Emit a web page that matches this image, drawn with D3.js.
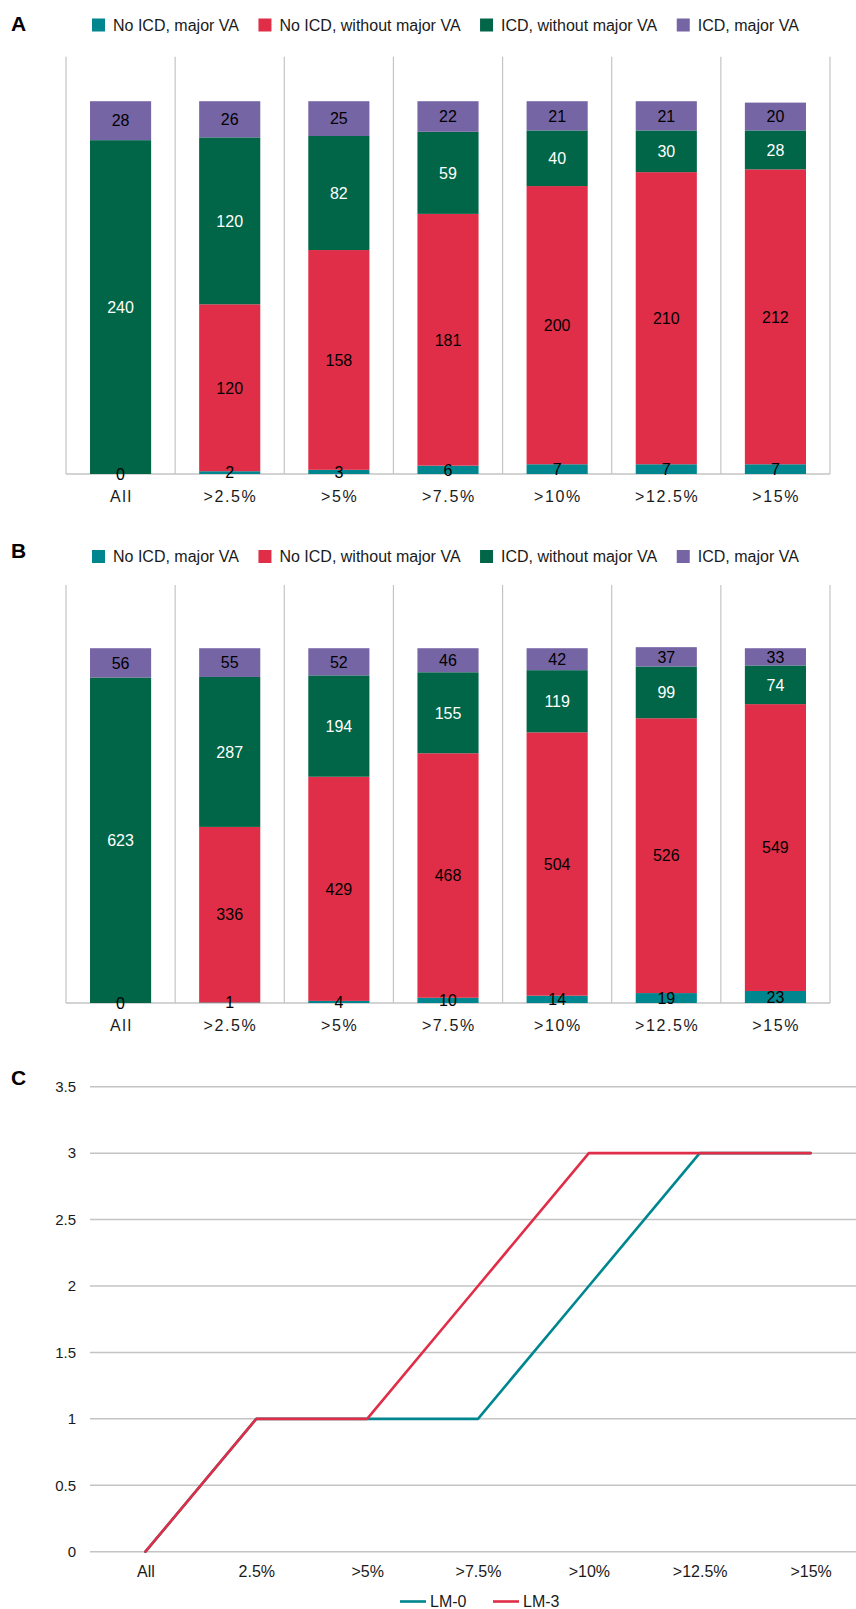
<!DOCTYPE html>
<html>
<head>
<meta charset="utf-8">
<script src="https://cdn.jsdelivr.net/npm/d3@7"></script>
<style>
  html, body { margin: 0; padding: 0; background: #fff; }
  svg { display: block; font-family: Arial, "Liberation Sans", sans-serif; }
</style>
</head>
<body>
<svg id="chart" width="856" height="1609"></svg>
<script>
// Risk thresholds (categories shared by all panels)
const categories = ["All", ">2.5%", ">5%", ">7.5%", ">10%", ">12.5%", ">15%"];
const lineCategories = ["All", "2.5%", ">5%", ">7.5%", ">10%", ">12.5%", ">15%"];

// Stack series names
const seriesNames = ["No ICD, major VA", "No ICD, without major VA", "ICD, without major VA", "ICD, major VA"];
const seriesColors = ["#00868F", "#E02E48", "#006647", "#7665A4"];

// Panel A counts
const aNoIcdMajor   = [0, 2, 3, 6, 7, 7, 7];
const aNoIcdWithout = [null, 120, 158, 181, 200, 210, 212];
const aIcdWithout   = [240, 120, 82, 59, 40, 30, 28];
const aIcdMajor     = [28, 26, 25, 22, 21, 21, 20];

// Panel B counts
const bNoIcdMajor   = [0, 1, 4, 10, 14, 19, 23];
const bNoIcdWithout = [null, 336, 429, 468, 504, 526, 549];
const bIcdWithout   = [623, 287, 194, 155, 119, 99, 74];
const bIcdMajor     = [56, 55, 52, 46, 42, 37, 33];

// Panel C lines
const lm0 = [0, 1, 1, 1, 2, 3, 3];
const lm3 = [0, 1, 1, 2, 3, 3, 3];
const lineNames = ["LM-0", "LM-3"];
const lineColors = ["#00868F", "#E02E48"];
const cTicks = [0, 0.5, 1, 1.5, 2, 2.5, 3, 3.5];

const svg = d3.select("#chart");
const gridColor = "#C4C4C4";
const textColor = "#1a1a1a";
const fontStack = "Arial, 'Liberation Sans', sans-serif";

function drawLegend(g, y, startX) {
  let x = startX;
  seriesNames.forEach((name, i) => {
    g.append("rect").attr("x", x).attr("y", y - 6.5).attr("width", 13).attr("height", 13)
      .attr("fill", seriesColors[i]);
    const t = g.append("text").attr("x", x + 21).attr("y", y).attr("dy", "0.35em")
      .attr("font-size", 16).attr("fill", textColor).text(name);
    x += 21 + t.node().getComputedTextLength() + 19.5;
  });
}

function drawStackPanel(opts) {
  const { letter, letterY, legendY, top, bottom, maxY, cols } = opts;
  const g = svg.append("g");
  const left = 66, right = 830;

  g.append("text").attr("x", 11).attr("y", letterY).attr("dy", "0.35em")
    .attr("font-size", 21).attr("font-weight", "bold").attr("fill", "#000").text(letter);
  drawLegend(g, legendY, 92);

  const x = d3.scaleBand().domain(categories).range([left, right])
    .paddingInner(0.44).paddingOuter(0.22);
  const y = d3.scaleLinear().domain([0, maxY]).range([bottom, top]);
  const step = x.step();

  // Category dividers
  const dividers = categories.map(c => x(c) - step * 0.22).concat([right]);
  g.selectAll(".div").data(dividers).join("line")
    .attr("x1", d => d).attr("x2", d => d).attr("y1", top).attr("y2", bottom)
    .attr("stroke", gridColor).attr("stroke-width", 1.2);
  g.append("line").attr("x1", left).attr("x2", right).attr("y1", bottom).attr("y2", bottom)
    .attr("stroke", gridColor).attr("stroke-width", 1.5);

  const rows = categories.map((c, i) => {
    const r = { cat: c };
    seriesNames.forEach((s, k) => { r[s] = cols[k][i] == null ? 0 : cols[k][i]; });
    return r;
  });
  const stack = d3.stack().keys(seriesNames)(rows);

  stack.forEach((layer, k) => {
    const lg = g.append("g");
    lg.selectAll("rect").data(layer).join("rect")
      .attr("x", d => x(d.data.cat)).attr("width", x.bandwidth())
      .attr("y", d => y(d[1])).attr("height", d => y(d[0]) - y(d[1]))
      .attr("fill", seriesColors[k]);
  });
  stack.forEach((layer, k) => {
    const lg = g.append("g");
    lg.selectAll("text").data(layer.filter((d, i) => cols[k][i] != null)).join("text")
      .attr("x", d => x(d.data.cat) + x.bandwidth() / 2)
      .attr("y", d => (y(d[0]) + y(d[1])) / 2).attr("dy", "0.36em")
      .attr("text-anchor", "middle").attr("font-size", 16)
      .attr("fill", k === 2 ? "#fff" : "#000")
      .text(d => d[1] - d[0]);
  });

  // Category labels
  const axis = d3.axisBottom(x).tickSize(0).tickPadding(0);
  const ax = g.append("g").attr("transform", `translate(0,${bottom})`).call(axis);
  ax.select(".domain").remove();
  ax.selectAll("text").attr("y", 22).attr("dy", "0.35em").attr("font-size", 16)
    .attr("letter-spacing", 1.6).attr("dx", 0.8).attr("fill", textColor)
    .attr("font-family", fontStack);
}

drawStackPanel({
  letter: "A", letterY: 24, legendY: 25, top: 56.7, bottom: 474, maxY: 300,
  cols: [aNoIcdMajor, aNoIcdWithout, aIcdWithout, aIcdMajor]
});
drawStackPanel({
  letter: "B", letterY: 551, legendY: 556.5, top: 585, bottom: 1003, maxY: 800,
  cols: [bNoIcdMajor, bNoIcdWithout, bIcdWithout, bIcdMajor]
});

// Panel C: line chart
(function () {
  const g = svg.append("g");
  const left = 90, right = 866, top = 1086.7, bottom = 1551.7;
  g.append("text").attr("x", 11).attr("y", 1078).attr("dy", "0.35em")
    .attr("font-size", 21).attr("font-weight", "bold").attr("fill", "#000").text("C");

  const x = d3.scalePoint().domain(lineCategories).range([left, right]).padding(0.5);
  const y = d3.scaleLinear().domain([0, 3.5]).range([bottom, top]);

  g.selectAll(".grid").data(cTicks).join("line")
    .attr("x1", left).attr("x2", right).attr("y1", d => y(d)).attr("y2", d => y(d))
    .attr("stroke", gridColor).attr("stroke-width", 1.5);

  const yAxis = d3.axisLeft(y).tickValues(cTicks).tickFormat(d => String(d)).tickSize(0).tickPadding(0);
  const ya = g.append("g").attr("transform", `translate(76,0)`).call(yAxis);
  ya.select(".domain").remove();
  ya.selectAll("text").attr("font-size", 15).attr("fill", textColor)
    .attr("font-family", fontStack);

  const xAxis = d3.axisBottom(x).tickSize(0).tickPadding(0);
  const xa = g.append("g").attr("transform", `translate(0,${bottom})`).call(xAxis);
  xa.select(".domain").remove();
  xa.selectAll("text").attr("y", 20).attr("dy", "0.35em").attr("font-size", 16).attr("fill", textColor)
    .attr("font-family", fontStack);

  const line = d3.line().x((d, i) => x(lineCategories[i])).y(d => y(d));
  [lm0, lm3].forEach((vals, k) => {
    g.append("path").attr("d", line(vals)).attr("fill", "none")
      .attr("stroke", lineColors[k]).attr("stroke-width", 2.6)
      .attr("stroke-linejoin", "round").attr("stroke-linecap", "round");
  });

  // Legend
  const lgY = 1601.5;
  const items = [{ x: 400 }, { x: 493 }];
  lineNames.forEach((name, k) => {
    const lx = items[k].x;
    g.append("line").attr("x1", lx).attr("x2", lx + 26).attr("y1", lgY).attr("y2", lgY)
      .attr("stroke", lineColors[k]).attr("stroke-width", 2.6);
    g.append("text").attr("x", lx + 30).attr("y", lgY).attr("dy", "0.35em")
      .attr("font-size", 16).attr("fill", textColor).text(name);
  });
})();
</script>
</body>
</html>
